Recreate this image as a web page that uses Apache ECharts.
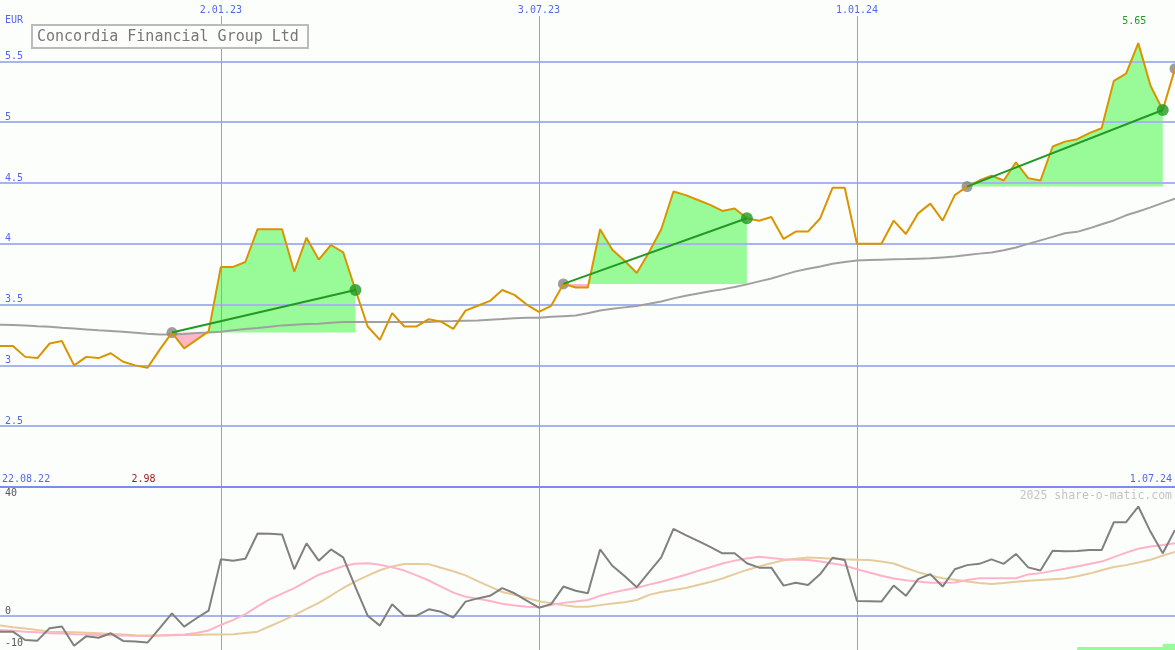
<!DOCTYPE html>
<html><head><meta charset="utf-8">
<script src="https://cdn.jsdelivr.net/npm/echarts@6/dist/echarts.min.js"></script>
<style>html,body{margin:0;padding:0;background:#fcfefc}#c{width:1175px;height:650px}</style>
</head><body><div id="c"></div>
<script>
// ---------- data ----------
const title = 'Concordia Financial Group Ltd';
const currency = 'EUR';
const startDate = '22.08.22';           // first weekly observation
const dateTicks = ['2.01.23', '3.07.23', '1.01.24'];
const rangeLabels = ['22.08.22', '1.07.24'];
const priceTicks = [2.5, 3, 3.5, 4, 4.5, 5, 5.5];
const oscLabelTicks = [-10, 0];
const oscLineTicks = [0];
const oscTopTick = [40];
const watermark = '2025 share-o-matic.com';

const price = [
  3.16, 3.16, 3.16, 3.07, 3.06, 3.18, 3.20, 3.00, 3.07, 3.06,
  3.10, 3.03, 3.00, 2.98, 3.13, 3.27, 3.14, 3.21, 3.28, 3.81,
  3.81, 3.85, 4.12, 4.12, 4.12, 3.77, 4.05, 3.87, 3.99, 3.93,
  3.62, 3.32, 3.21, 3.43, 3.32, 3.32, 3.38, 3.36, 3.30, 3.45,
  3.49, 3.53, 3.62, 3.58, 3.50, 3.44, 3.49, 3.67, 3.64, 3.64,
  4.12, 3.95, 3.86, 3.76, 3.93, 4.12, 4.43, 4.40, 4.36, 4.32,
  4.27, 4.29, 4.21, 4.19, 4.22, 4.04, 4.10, 4.10, 4.21, 4.46,
  4.46, 4.00, 4.00, 4.00, 4.19, 4.08, 4.25, 4.33, 4.19, 4.40,
  4.47, 4.52, 4.56, 4.52, 4.67, 4.54, 4.52, 4.80, 4.84, 4.86,
  4.91, 4.95, 5.34, 5.40, 5.65, 5.30, 5.10, 5.44
];
const ma200 = [
  3.337, 3.335, 3.333, 3.329, 3.322, 3.317, 3.310, 3.304, 3.296, 3.288,
  3.282, 3.276, 3.269, 3.261, 3.255, 3.255, 3.259, 3.266, 3.271, 3.277,
  3.288, 3.299, 3.308, 3.318, 3.329, 3.335, 3.340, 3.343, 3.350, 3.356,
  3.356, 3.356, 3.356, 3.356, 3.356, 3.356, 3.356, 3.362, 3.364, 3.368,
  3.370, 3.376, 3.381, 3.387, 3.391, 3.392, 3.399, 3.405, 3.411, 3.428,
  3.452, 3.465, 3.477, 3.489, 3.506, 3.526, 3.551, 3.573, 3.592, 3.609,
  3.625, 3.644, 3.666, 3.691, 3.715, 3.744, 3.773, 3.795, 3.814, 3.835,
  3.851, 3.863, 3.866, 3.869, 3.872, 3.874, 3.877, 3.880, 3.888, 3.896,
  3.907, 3.919, 3.929, 3.946, 3.970, 3.999, 4.028, 4.057, 4.086, 4.098,
  4.127, 4.160, 4.192, 4.234, 4.266, 4.299, 4.336, 4.371
];
const oscillator = [
  -4.9, -4.9, -4.9, -7.5, -7.7, -3.8, -3.3, -9.3, -6.3, -6.8,
  -5.4, -7.8, -8.0, -8.3, -3.8, 0.8, -3.3, -0.7, 1.7, 17.7,
  17.3, 17.9, 25.8, 25.7, 25.5, 14.6, 22.7, 17.3, 20.8, 18.3,
  9.0, 0.1, -3.0, 3.7, 0.1, 0.1, 2.1, 1.3, -0.5, 4.5,
  5.5, 6.3, 8.7, 7.1, 4.8, 2.6, 3.7, 9.2, 7.9, 7.1,
  20.8, 15.7, 12.5, 9.0, 13.7, 18.3, 27.2, 25.3, 23.5, 21.6,
  19.6, 19.6, 16.5, 15.1, 15.1, 9.5, 10.4, 9.7, 13.1, 18.2,
  17.5, 4.7, 4.6, 4.5, 9.5, 6.3, 11.5, 13.1, 9.2, 14.6,
  15.9, 16.3, 17.7, 16.3, 19.4, 15.2, 14.2, 20.4, 20.2, 20.3,
  20.6, 20.6, 29.3, 29.3, 34.2, 26.3, 19.6, 26.9
];
const oscFast = [
  -4.2, -4.4, -4.6, -4.9, -5.1, -5.4, -5.5, -5.7, -5.8, -5.9,
  -6.0, -6.1, -6.2, -6.25, -6.1, -5.9, -5.8, -5.3, -4.5, -2.8,
  -1.2, 0.6, 3.0, 5.3, 7.0, 8.7, 10.8, 12.9, 14.2, 15.6,
  16.3, 16.5, 16.0, 15.2, 14.2, 12.7, 11.1, 9.2, 7.3, 6.0,
  5.4, 4.7, 3.8, 3.3, 2.9, 2.7, 3.4, 4.1, 4.5, 5.0,
  6.3, 7.3, 8.1, 8.8, 9.8, 10.7, 11.8, 12.9, 14.1, 15.25,
  16.4, 17.3, 18.0, 18.5, 18.1, 17.75, 17.6, 17.5, 17.0, 16.4,
  15.75, 14.6, 13.6, 12.6, 11.7, 11.2, 10.75, 10.4, 10.4, 10.5,
  11.25, 11.8, 11.8, 11.8, 11.8, 13.0, 13.4, 14.1, 14.75, 15.5,
  16.25, 17.0, 18.4, 19.8, 21.0, 21.75, 22.2, 22.7
];
const oscSlow = [
  -2.7, -3.0, -3.5, -3.9, -4.4, -4.9, -5.0, -5.1, -5.25, -5.4,
  -5.6, -5.8, -6.0, -6.1, -6.1, -6.0, -5.95, -5.9, -5.8, -5.8,
  -5.7, -5.3, -4.9, -3.2, -1.5, 0.3, 2.2, 4.1, 6.4, 8.75,
  10.8, 12.6, 14.3, 15.5, 16.25, 16.25, 16.2, 15.1, 14.0, 12.7,
  10.9, 9.2, 7.5, 6.6, 5.6, 4.6, 4.0, 3.4, 2.9, 2.9,
  3.4, 3.9, 4.3, 5.0, 6.6, 7.5, 8.1, 8.75, 9.7, 10.6,
  11.7, 13.1, 14.4, 15.5, 16.5, 17.4, 17.9, 18.3, 18.1, 17.9,
  17.7, 17.6, 17.5, 17.0, 16.4, 15.0, 13.7, 12.7, 11.8, 11.3,
  10.8, 10.3, 10.0, 10.3, 10.7, 11.0, 11.25, 11.5, 11.75, 12.4,
  13.25, 14.3, 15.3, 15.9, 16.7, 17.6, 18.9, 20.0
];
// trades (week indices)
const tradeStart = [15, 47, 80, 97];
const tradeEnd = [30, 62, 96];
// signal bar at the bottom (from week index signalFrom)
const signalFrom = 89;
const signal = [-9.7, -9.7, -9.7, -9.7, -9.7, -9.7, -9.7, -8.7, -8.7];

// ---------- helpers ----------
const DAY = 86400000;
function parseD(s) { const [d, m, y] = s.split('.').map(Number); return Date.UTC(2000 + y, m - 1, d); }
function fmtD(t) { const d = new Date(t); return d.getUTCDate() + '.' + String(d.getUTCMonth() + 1).padStart(2, '0') + '.' + String(d.getUTCFullYear() % 100).padStart(2, '0'); }
const t0 = parseD(startDate);
const times = price.map((_, i) => t0 + i * 7 * DAY);
const xMin = t0 + 6.6 * DAY, xMax = t0 + 679.0 * DAY;
const tickTimes = dateTicks.map(parseD);
const pair = (arr) => arr.map((v, i) => [times[i], v]);

const FONT = 'DejaVu Sans Mono';
const BLUE = '#5566ee';
const GRIDC = '#a8b4f0';
const VGRIDC = '#8c9cf8';

const fillSeries = {
  type: 'custom', xAxisIndex: 0, yAxisIndex: 0, z: 0, clip: true, silent: true,
  data: tradeEnd.map((e, k) => [times[tradeStart[k]], price[tradeStart[k]]]),
  renderItem: function (params, api) {
    const k = params.dataIndex, s = tradeStart[k], e = tradeEnd[k];
    const base = price[s];
    const up = [], dn = [];
    for (let i = s; i <= e; i++) {
      const p = price[i];
      if (i > s) {
        const p0 = price[i - 1];
        if ((p0 - base) * (p - base) < 0) {
          const f = (base - p0) / (p - p0);
          const tx = times[i - 1] + f * (times[i] - times[i - 1]);
          up.push([tx, base]); dn.push([tx, base]);
        }
      }
      up.push([times[i], Math.max(p, base)]);
      dn.push([times[i], Math.min(p, base)]);
    }
    const poly = (arr) => arr.map(q => api.coord(q)).concat([api.coord([times[e], base]), api.coord([times[s], base])]);
    return { type: 'group', children: [
      { type: 'polygon', shape: { points: poly(up) }, style: { fill: '#98fb98' } },
      { type: 'polygon', shape: { points: poly(dn) }, style: { fill: '#ffb6c8' } }
    ] };
  }
};

const trendData = [];
tradeEnd.forEach((e, k) => {
  const s = tradeStart[k];
  trendData.push([times[s], price[s]], [times[e], price[e]], [null, null]);
});

const vSplit = { show: true, lineStyle: { color: VGRIDC, width: 1 } };

const option = {
  animation: false,
  backgroundColor: '#fcfefc',
  grid: [
    { left: 0, right: 0, top: 16, height: 471 },
    { left: 0, right: 0, top: 487, height: 163 }
  ],
  xAxis: [
    { type: 'value', gridIndex: 0, min: xMin, max: xMax, position: 'top', z: 1,
      axisLine: { show: false }, axisTick: { show: false, customValues: tickTimes },
      axisLabel: { customValues: tickTimes, formatter: fmtD, color: BLUE, fontFamily: FONT, fontSize: 10, margin: 1 },
      splitLine: vSplit },
    { type: 'value', gridIndex: 1, min: xMin, max: xMax, position: 'top', z: 1,
      axisLine: { show: true, onZero: false, lineStyle: { color: '#7b8cf0', width: 2 } },
      axisTick: { show: false, customValues: tickTimes },
      axisLabel: { show: false },
      splitLine: vSplit }
  ],
  yAxis: [
    { type: 'value', gridIndex: 0, min: 2, max: 5.873, z: 1, position: 'left',
      axisLine: { show: false }, axisTick: { show: false, customValues: priceTicks },
      axisLabel: { inside: true, customValues: priceTicks, formatter: v => String(v), verticalAlign: 'bottom',
        color: BLUE, fontFamily: FONT, fontSize: 10, margin: 5 },
      splitLine: { show: true, lineStyle: { color: GRIDC, width: 2 } } },
    { type: 'value', gridIndex: 1, min: -10.625, max: 40.3125, z: 1, position: 'left',
      axisLine: { show: false }, axisTick: { show: false, customValues: oscLineTicks },
      axisLabel: { inside: true, customValues: oscLabelTicks, formatter: v => String(v), verticalAlign: 'bottom',
        color: '#555555', fontFamily: FONT, fontSize: 10, margin: 5 },
      splitLine: { show: true, lineStyle: { color: GRIDC, width: 2 } } },
    { type: 'value', gridIndex: 1, min: -10.625, max: 40.3125, z: 1, position: 'left', offset: 0,
      axisLine: { show: false }, axisTick: { show: false },
      axisLabel: { inside: true, customValues: oscTopTick, formatter: v => String(v), verticalAlign: 'top',
        color: '#555555', fontFamily: FONT, fontSize: 10, margin: 5 },
      splitLine: { show: false } }
  ],
  series: [
    fillSeries,
    { name: 'MA200', type: 'line', xAxisIndex: 0, yAxisIndex: 0, z: 2, data: pair(ma200), symbol: 'none',
      lineStyle: { color: '#a0a0a0', width: 2 } },
    { name: 'start', type: 'scatter', xAxisIndex: 0, yAxisIndex: 0, z: 2,
      data: tradeStart.map(s => [times[s], price[s]]), symbolSize: 11, itemStyle: { color: '#858585' } },
    { name: 'Kurs', type: 'line', xAxisIndex: 0, yAxisIndex: 0, z: 3, data: pair(price), symbol: 'none',
      lineStyle: { color: '#da9400', width: 2 } },
    { name: 'trend', type: 'line', xAxisIndex: 0, yAxisIndex: 0, z: 4, data: trendData, symbol: 'none',
      connectNulls: false, lineStyle: { color: '#229922', width: 2 } },
    { name: 'end', type: 'scatter', xAxisIndex: 0, yAxisIndex: 0, z: 5,
      data: tradeEnd.map(e => [times[e], price[e]]), symbolSize: 12, itemStyle: { color: '#229922' } },
    { name: 'signal', type: 'line', xAxisIndex: 1, yAxisIndex: 1, z: 2, step: 'end', symbol: 'none',
      data: signal.map((v, i) => [times[signalFrom + i], v]),
      lineStyle: { width: 0 }, areaStyle: { color: '#98fb98', origin: 'start', opacity: 1 } },
    { name: 'slow', type: 'line', xAxisIndex: 1, yAxisIndex: 1, z: 2, data: pair(oscSlow), symbol: 'none',
      lineStyle: { color: '#e6cb9c', width: 2 } },
    { name: 'fast', type: 'line', xAxisIndex: 1, yAxisIndex: 1, z: 3, data: pair(oscFast), symbol: 'none',
      lineStyle: { color: '#ffb3c9', width: 2 } },
    { name: 'osc', type: 'line', xAxisIndex: 1, yAxisIndex: 1, z: 4, data: pair(oscillator), symbol: 'none',
      lineStyle: { color: '#808080', width: 2 } }
  ]
};

const chart = echarts.init(document.getElementById('c'), null, { renderer: 'canvas' });
chart.setOption(option);

let iMax = 0, iMin = 0;
price.forEach((v, i) => { if (v > price[iMax]) iMax = i; if (v < price[iMin]) iMin = i; });
const pMax = chart.convertToPixel({ gridIndex: 0 }, [times[iMax], price[iMax]]);
const pMin = chart.convertToPixel({ gridIndex: 0 }, [times[iMin], price[iMin]]);

chart.setOption({
  graphic: [
    { type: 'text', left: 5, top: 15, style: { text: currency, fill: BLUE, font: '10px ' + FONT } },
    { type: 'rect', shape: { x: 32, y: 25, width: 276, height: 23 }, style: { fill: '#fcfefc', stroke: '#bbbbbb', lineWidth: 2 }, z: 10 },
    { type: 'text', x: 37, y: 37, style: { text: title, fill: '#777777', font: '15px ' + FONT, textVerticalAlign: 'middle' }, z: 11 },
    { type: 'text', x: 2, y: 479, style: { text: rangeLabels[0], fill: BLUE, font: '10px ' + FONT, textVerticalAlign: 'middle' }, z: 11 },
    { type: 'text', x: 1172, y: 479, style: { text: rangeLabels[1], fill: BLUE, font: '10px ' + FONT, textAlign: 'right', textVerticalAlign: 'middle' }, z: 11 },
    { type: 'text', x: 1172, y: 496, style: { text: watermark, fill: '#c4c4c4', font: '11.5px ' + FONT, textAlign: 'right', textVerticalAlign: 'middle' }, z: 11 },
    { type: 'text', x: pMax[0] - 4, y: 21, style: { text: price[iMax].toFixed(2), fill: '#229922', font: '10px ' + FONT, textAlign: 'center', textVerticalAlign: 'middle' }, z: 11 },
    { type: 'text', x: pMin[0] - 4, y: 479, style: { text: price[iMin].toFixed(2), fill: '#a01c1c', font: '10px ' + FONT, textAlign: 'center', textVerticalAlign: 'middle' }, z: 11 }
  ]
});
</script>
</body></html>
